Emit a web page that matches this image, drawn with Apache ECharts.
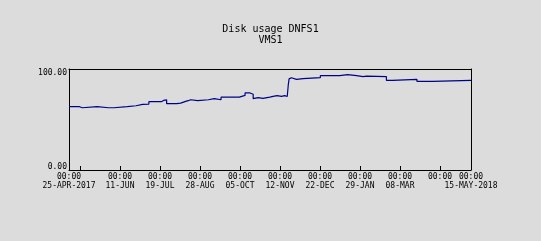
<!DOCTYPE html>
<html>
<head>
<meta charset="utf-8">
<script src="https://cdn.jsdelivr.net/npm/echarts@6/dist/echarts.min.js"></script>
<style>
html,body{margin:0;padding:0;background:#dcdcdc;}
#c{width:541px;height:241px;}
</style>
</head>
<body>
<div id="c"></div>
<script>
// Days since 25-APR-2017 00:00 and disk usage (%)
const dayOffsets = [0, 10.1, 12.7, 27.0, 37.9, 38.8, 43.0, 55.8, 64.2, 70.5, 72.4, 76.5, 88.4, 90.6, 93.5,
  103.1, 105.0, 106.9, 108.8, 111.7, 114.1, 116.5, 123.2, 133.5, 139.2, 145.6, 163.2, 168.6, 173.4,
  176.4, 177.9, 181.2, 185.8, 192.3, 195.4, 199.3, 203.5, 206.6, 209.0, 210.0, 210.8, 211.4, 212.9,
  213.6, 217.9, 224.2, 240.7, 259.4, 266.8, 275.4, 281.7, 285.0, 304.0, 309.9, 333.2, 348.3, 385.0];
const usagePct = [65.5, 64.4, 65.5, 64.4, 65.5, 64.4, 65.5, 66.5, 67.9, 69.2, 68.2, 70.7, 72.0, 72.6, 68.6,
  67.9, 69.2, 69.9, 71.0, 71.7, 72.7, 71.7, 72.7, 73.8, 72.7, 75.4, 77.2, 79.7, 78.4,
  73.8, 74.8, 74.1, 75.4, 76.1, 76.9, 76.1, 76.9, 76.1, 76.1, 88.0, 94.3, 95.5, 94.5,
  93.8, 94.5, 95.5, 97.6, 98.6, 97.6, 96.6, 97.2, 96.6, 92.7, 93.8, 91.7, 92.7, 92.7];

const xMin = 0, xMax = 385;
// start / end labels of the time range
const edgeDays = [0, 385];
const edgeTimes = ['00:00', '00:00'];
const edgeDates = ['25-APR-2017', '15-MAY-2018'];
// evenly spaced major ticks (index 0..9) and their labels
const tickTimes = ['', '00:00', '00:00', '00:00', '00:00', '00:00', '00:00', '00:00', '00:00', '00:00'];
const tickDates = ['', '11-JUN', '19-JUL', '28-AUG', '05-OCT', '12-NOV', '22-DEC', '29-JAN', '08-MAR', ''];
const yLabelValues = [0, 100];
const yMax = 104.5;

// sample-and-hold line: each reading holds until the next one
const stepData = [];
dayOffsets.forEach(function (d, i) {
  stepData.push([d, usagePct[i]]);
  if (i + 1 < dayOffsets.length) stepData.push([dayOffsets[i + 1], usagePct[i]]);
});

const FONT = '"DejaVu Sans Mono", monospace';
const labelBase = {fontFamily: FONT, fontSize: 8, color: '#000', lineHeight: 9, margin: 2, hideOverlap: false};
const chart = echarts.init(document.getElementById('c'), null, {renderer:'canvas'});
chart.setOption({
  backgroundColor: '#dcdcdc',
  animation: false,
  title: {
    text: 'Disk usage DNFS1',
    subtext: 'VMS1',
    left: 'center',
    top: 24,
    padding: 0,
    itemGap: 0,
    textStyle: {fontFamily: FONT, fontSize: 10, fontWeight: 'normal', color: '#000', lineHeight: 11},
    subtextStyle: {fontFamily: FONT, fontSize: 10, color: '#000', lineHeight: 11}
  },
  grid: [
    {left: 69, top: 69, width: 402, height: 101, containLabel: false},
    // thin strip along the bottom edge: its split lines form the inward tick marks
    {left: 80, top: 166, width: 360, height: 4, containLabel: false}
  ],
  xAxis: [{
    gridIndex: 0, type: 'value', min: xMin, max: xMax, position: 'bottom',
    splitLine: {show: false},
    axisLine: {show: true, onZero: false, lineStyle: {color: '#000', width: 1}},
    axisTick: {show: false},
    axisLabel: Object.assign({}, labelBase, {
      customValues: edgeDays, showMinLabel: true, showMaxLabel: true,
      formatter: function (v) {
        const i = v < (xMin + xMax) / 2 ? 0 : 1;
        return edgeTimes[i] + '\n' + edgeDates[i];
      }
    })
  }, {
    gridIndex: 0, type: 'value', min: xMin, max: xMax, position: 'top',
    splitLine: {show: false}, axisTick: {show: false}, axisLabel: {show: false},
    axisLine: {show: true, onZero: false, lineStyle: {color: '#000', width: 1}}
  }, {
    gridIndex: 1, type: 'value', min: 0, max: tickDates.length - 1, interval: 1, position: 'bottom',
    splitLine: {show: true, lineStyle: {color: '#000', width: 1}},
    axisLine: {show: false, onZero: false},
    axisTick: {show: false},
    axisLabel: Object.assign({}, labelBase, {
      showMinLabel: true, showMaxLabel: true,
      formatter: function (v) {
        const i = Math.round(v);
        if (!tickTimes[i]) return '';
        return tickTimes[i] + '\n' + (tickDates[i] || ' ');
      }
    })
  }],
  yAxis: [{
    gridIndex: 0, type: 'value', min: 0, max: yMax, position: 'left',
    splitLine: {show: false},
    axisLine: {show: true, onZero: false, lineStyle: {color: '#000', width: 1}},
    axisTick: {show: false},
    axisLabel: {
      show: true, margin: 2, customValues: yLabelValues, showMinLabel: true, showMaxLabel: true,
      fontFamily: FONT, fontSize: 8, color: '#000',
      formatter: function (v) { return v === 0 ? '{lo|' + v.toFixed(2) + '}' : '{hi|' + v.toFixed(2) + '}'; },
      rich: {
        lo: {fontFamily: FONT, fontSize: 8, color: '#000', padding: [0, 0, 6, 0]},
        hi: {fontFamily: FONT, fontSize: 8, color: '#000', padding: [0, 0, 0, 0]}
      }
    }
  }, {
    gridIndex: 0, type: 'value', min: 0, max: yMax, position: 'right',
    splitLine: {show: false}, axisTick: {show: false}, axisLabel: {show: false},
    axisLine: {show: true, onZero: false, lineStyle: {color: '#000', width: 1}}
  }, {
    gridIndex: 1, type: 'value', min: 0, max: 1, show: false
  }],
  series: [{
    type: 'line',
    xAxisIndex: 0, yAxisIndex: 0,
    symbol: 'none',
    lineStyle: {color: '#000088', width: 1.2},
    data: stepData
  }]
});
</script>
</body>
</html>
